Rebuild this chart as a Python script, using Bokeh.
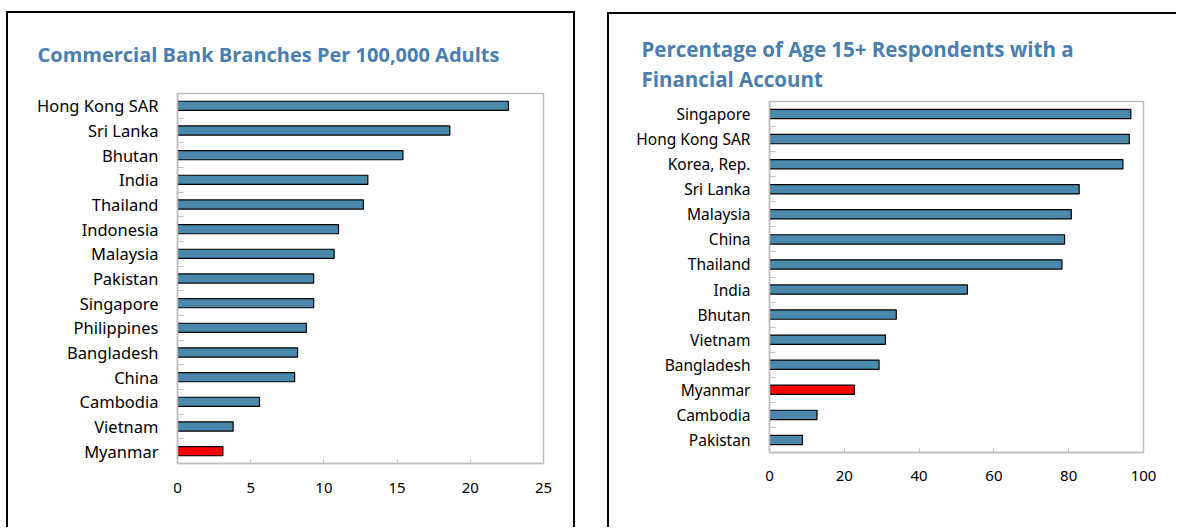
from bokeh.plotting import figure
from bokeh.models import FixedTicker, Title, Range1d, ColumnDataSource
from bokeh.embed import file_html
from bokeh.resources import INLINE

# ---- data ----
bank_countries = ["Hong Kong SAR", "Sri Lanka", "Bhutan", "India", "Thailand", "Indonesia",
                  "Malaysia", "Pakistan", "Singapore", "Philippines", "Bangladesh", "China",
                  "Cambodia", "Vietnam", "Myanmar"]
bank_values = [22.6, 18.6, 15.4, 13.0, 12.7, 11.0, 10.7, 9.3, 9.3, 8.8, 8.2, 8.0, 5.6, 3.8, 3.1]
bank_ticks = [0, 5, 10, 15, 20, 25]
bank_title = "Commercial Bank Branches Per 100,000  Adults"

acct_countries = ["Singapore", "Hong Kong SAR", "Korea, Rep.", "Sri Lanka", "Malaysia", "China",
                  "Thailand", "India", "Bhutan", "Vietnam", "Bangladesh", "Myanmar", "Cambodia",
                  "Pakistan"]
acct_values = [96.6, 96.2, 94.5, 82.8, 80.7, 78.9, 78.2, 52.9, 33.9, 31.0, 29.3, 22.7, 12.7, 8.8]
acct_ticks = [0, 20, 40, 60, 80, 100]
acct_title = "Percentage of Age 15+  Respondents with a\nFinancial Account"

highlight = "Myanmar"

BLUE = "#4A89AC"
RED = "#FF0000"
TITLE_COLOR = "#4A7EAF"
GRAY = "#BFBFBF"
LABEL_FONT = "Noto Sans"
TITLE_FONT = "Open Sans"


def make_panel(countries, values, ticks, title, fw, fh, mbl, mbt, mbr, mbb,
               label_size, x_standoff, title_offset, title_standoff, title_size,
               title_line_height, styles):
    n = len(countries)
    ypos = [n - 1 - i for i in range(n)]
    colors = [RED if c == highlight else BLUE for c in countries]
    src = ColumnDataSource(dict(y=ypos, v=values, c=colors))
    p = figure(frame_width=fw, frame_height=fh,
               x_range=Range1d(ticks[0], ticks[-1]), y_range=Range1d(-0.5, n - 0.5),
               output_backend="svg", toolbar_location=None, tools="", title=None,
               styles=styles)
    p.min_border_left = mbl
    p.min_border_top = mbt
    p.min_border_right = mbr
    p.min_border_bottom = mbb
    p.border_fill_color = "white"
    p.background_fill_color = "white"
    p.outline_line_color = GRAY
    p.outline_line_width = 1.5

    p.hbar(y="y", left=0, right="v", height=0.37, fill_color="c",
           line_color="black", line_width=1.2, source=src)

    p.xgrid.visible = False
    p.ygrid.visible = False

    xa = p.xaxis[0]
    xa.ticker = FixedTicker(ticks=ticks)
    xa.axis_line_color = GRAY
    xa.axis_line_width = 1.5
    xa.major_tick_in = 4
    xa.major_tick_out = 0
    xa.major_tick_line_color = GRAY
    xa.minor_tick_line_color = None
    xa.major_label_text_font = LABEL_FONT
    xa.major_label_text_font_size = "15px"
    xa.major_label_text_color = "black"
    xa.major_label_standoff = x_standoff

    ya = p.yaxis[0]
    ya.ticker = FixedTicker(ticks=ypos, minor_ticks=[k - 0.5 for k in range(n + 1)])
    ya.major_label_overrides = {y: c for y, c in zip(ypos, countries)}
    ya.axis_line_color = GRAY
    ya.axis_line_width = 1.5
    ya.major_tick_line_color = None
    ya.major_tick_in = 0
    ya.major_tick_out = 0
    ya.minor_tick_in = 6
    ya.minor_tick_out = 0
    ya.minor_tick_line_color = GRAY
    ya.major_label_text_font = LABEL_FONT
    ya.major_label_text_font_size = label_size
    ya.major_label_text_color = "black"
    ya.major_label_standoff = 19

    p.add_layout(Title(text=title, align="left", vertical_align="middle",
                       offset=title_offset, standoff=title_standoff,
                       text_font=TITLE_FONT, text_font_style="bold",
                       text_font_size=title_size, text_color=TITLE_COLOR,
                       text_line_height=title_line_height), "above")
    return p


left = make_panel(bank_countries, bank_values, bank_ticks, bank_title,
                  fw=366, fh=370, mbl=169, mbt=80, mbr=30, mbb=64,
                  label_size="16.5px", x_standoff=19, title_offset=-140, title_standoff=50,
                  title_size="20px", title_line_height=1.15,
                  styles={"position": "absolute", "left": "6px", "top": "11px",
                          "border-top": "2px solid black", "border-left": "2px solid black",
                          "border-right": "2px solid black"})

right = make_panel(acct_countries, acct_values, acct_ticks, acct_title,
                   fw=374, fh=351, mbl=160, mbt=87, mbr=33, mbb=75,
                   label_size="15.5px", x_standoff=18, title_offset=-128, title_standoff=15,
                   title_size="20.5px", title_line_height=1.07,
                   styles={"position": "absolute", "left": "607px", "top": "12px",
                           "border-top": "2px solid black", "border-left": "2px solid black"})

open("out.html", "w").write(file_html([left, right], INLINE))
